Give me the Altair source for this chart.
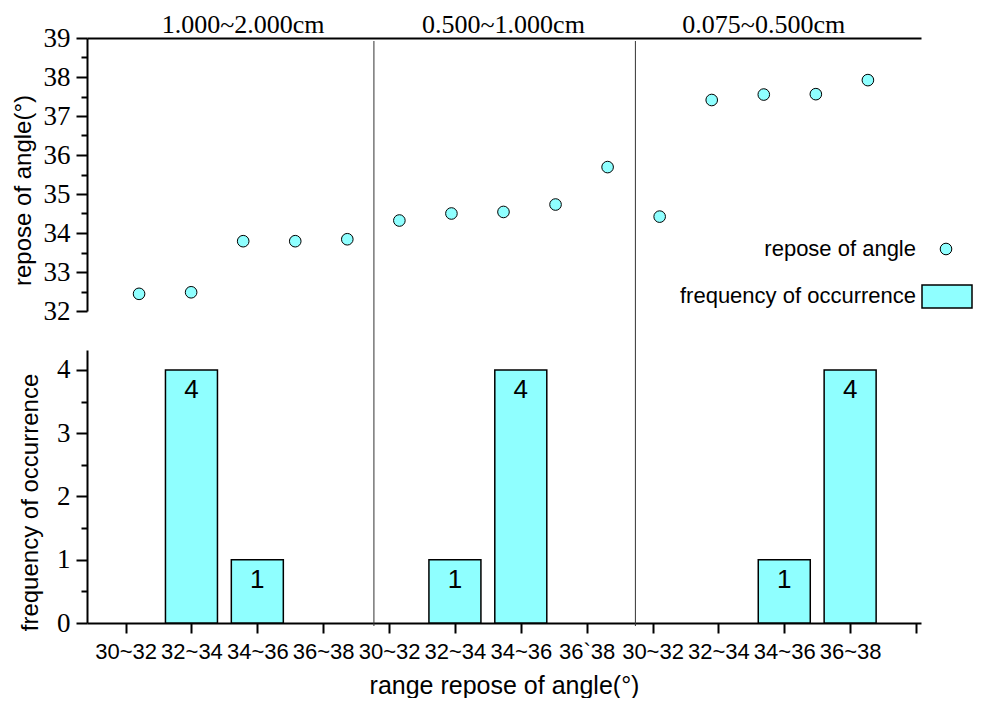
import json
import altair as alt
import pandas as pd

# ---------------- data ----------------
groups = ["1.000~2.000cm", "0.500~1.000cm", "0.075~0.500cm"]
angle_g1 = [32.44, 32.48, 33.79, 33.79, 33.84]
angle_g2 = [34.32, 34.50, 34.54, 34.73, 35.69]
angle_g3 = [34.42, 37.41, 37.55, 37.56, 37.92]
ranges_g1 = ["30~32", "32~34", "34~36", "36~38"]
ranges_g2 = ["30~32", "32~34", "34~36", "36`38"]
ranges_g3 = ["30~32", "32~34", "34~36", "36~38"]
freq_g1 = [0, 4, 1, 0]
freq_g2 = [0, 1, 4, 0]
freq_g3 = [0, 0, 1, 4]
series_names = ["repose of angle", "frequency of occurrence"]
divider_pos = [4.77, 8.74]  # group boundaries on the range axis

CYAN = "#8FFFFF"
SANS = "Liberation Sans"
SERIF = "Liberation Serif"

angles = [angle_g1, angle_g2, angle_g3]
ranges = [ranges_g1, ranges_g2, ranges_g3]
freqs = [freq_g1, freq_g2, freq_g3]

rows = []
i = 1
for g, vals in zip(groups, angles):
    for v in vals:
        rows.append({"idx": i, "angle": v, "group": g})
        i += 1
scatter_df = pd.DataFrame(rows)
title_df = scatter_df.groupby("group", sort=False)["idx"].mean().reset_index()

brows = []
p = 1
for g, labs, fr in zip(groups, ranges, freqs):
    for lab, c in zip(labs, fr):
        brows.append({"pos": p, "range": lab, "count": c, "group": g})
        p += 1
bar_df = pd.DataFrame(brows)
all_labels = [r for labs in ranges for r in labs]
label_expr = json.dumps([""] + all_labels + [""]) + "[datum.value]"
int_label = "datum.value % 1 == 0 ? format(datum.value, 'd') : ''"
major_tick = {"condition": {"test": "datum.value % 1 == 0", "value": 11}, "value": 6}

W, H1, H2, GAP = 834, 273, 273, 39
LX = -7  # legend shift

# ---------------- top panel ----------------
x_top = alt.X(
    "idx:Q",
    scale=alt.Scale(domain=[0, 16.02], nice=False, zero=False),
    axis=alt.Axis(orient="top", labels=False, ticks=False, title=None, grid=False,
                  domainColor="black", domainWidth=2),
)
y_top = alt.Y(
    "angle:Q",
    scale=alt.Scale(domain=[32, 39], nice=False, zero=False),
    axis=alt.Axis(
        values=[32 + 0.5 * k for k in range(15)],
        labelExpr=int_label, tickSize=major_tick,
        tickWidth=2, tickColor="black", domainColor="black", domainWidth=2, grid=False,
        labelFont=SERIF, labelFontSize=27, labelColor="black", labelPadding=6,
        title="repose of angle(°)", titleFont=SANS, titleFontSize=24,
        titleFontWeight="normal", titleColor="black", titlePadding=8, titleY=152,
    ),
)

points = alt.Chart(scatter_df).mark_circle(
    size=135, fill=CYAN, stroke="black", strokeWidth=1, opacity=1
).encode(x=x_top, y=y_top)

group_titles = alt.Chart(title_df).mark_text(
    font=SERIF, fontSize=26, baseline="alphabetic", align="center", color="black"
).encode(x=x_top, y=alt.value(-5), text="group:N")

leg_df = pd.DataFrame({"name": series_names})
leg_text1 = alt.Chart(leg_df.iloc[[0]]).mark_text(
    font=SANS, fontSize=22, align="right", baseline="alphabetic", color="black"
).encode(text="name:N", x=alt.value(836 + LX), y=alt.value(218))
leg_text2 = alt.Chart(leg_df.iloc[[1]]).mark_text(
    font=SANS, fontSize=22, align="right", baseline="alphabetic", color="black"
).encode(text="name:N", x=alt.value(836 + LX), y=alt.value(265))
leg_circle = alt.Chart(leg_df.iloc[[0]]).mark_circle(
    size=135, fill=CYAN, stroke="black", strokeWidth=1, opacity=1
).encode(x=alt.value(866 + LX), y=alt.value(211))
leg_rect = alt.Chart(leg_df.iloc[[1]]).mark_rect(
    fill=CYAN, stroke="black", strokeWidth=1.5
).encode(x=alt.value(842 + LX), x2=alt.value(892 + LX), y=alt.value(247), y2=alt.value(270))

top = alt.layer(points, group_titles, leg_text1, leg_text2, leg_circle, leg_rect).properties(
    width=W, height=H1
)

# ---------------- bottom panel ----------------
x_bot = alt.X(
    "pos:Q",
    scale=alt.Scale(domain=[0.49, 13], nice=False, zero=False),
    axis=alt.Axis(
        values=list(range(1, 14)), labelExpr=label_expr,
        tickSize=10, tickWidth=2, tickColor="black", domainColor="black", domainWidth=2,
        grid=False, labelFont=SANS, labelFontSize=22, labelColor="black", labelPadding=8,
        labelOverlap=False, labelFlush=False,
        title="range repose of angle(°)", titleFont=SANS, titleFontSize=25,
        titleFontWeight="normal", titleColor="black", titlePadding=11,
    ),
)
y_bot = alt.Y(
    "count:Q",
    scale=alt.Scale(domain=[0, 4.316], nice=False, zero=False),
    axis=alt.Axis(
        values=[0.5 * k for k in range(9)],
        labelExpr=int_label, tickSize=major_tick,
        tickWidth=2, tickColor="black", domainColor="black", domainWidth=2, grid=False,
        labelFont=SERIF, labelFontSize=27, labelColor="black", labelPadding=6,
        title="frequency of occurrence", titleFont=SANS, titleFontSize=24,
        titleFontWeight="normal", titleColor="black", titlePadding=14, titleY=152,
    ),
)

nonzero = alt.Chart(bar_df).transform_filter("datum.count > 0")
bars = nonzero.mark_bar(size=52, fill=CYAN, stroke="black", strokeWidth=1.5).encode(
    x=x_bot, y=y_bot
)
bar_labels = nonzero.mark_text(
    font=SANS, fontSize=26, baseline="alphabetic", align="center", dy=28, color="black"
).encode(x=x_bot, y=y_bot, text="count:Q")

dividers = alt.Chart(pd.DataFrame({"pos": divider_pos})).mark_rule(
    color="#333333", strokeWidth=1
).encode(x=x_bot, y=alt.value(-(H1 + GAP) + 3), y2=alt.value(H2 + 3))

bottom = alt.layer(bars, bar_labels, dividers).properties(width=W, height=H2)

chart = alt.vconcat(top, bottom, spacing=GAP, bounds="flush").properties(
    padding={"left": 3, "top": 4, "right": 0, "bottom": 0}
).configure_view(strokeWidth=0)

chart.save("out.html", embed_options={"renderer": "svg", "actions": False})
